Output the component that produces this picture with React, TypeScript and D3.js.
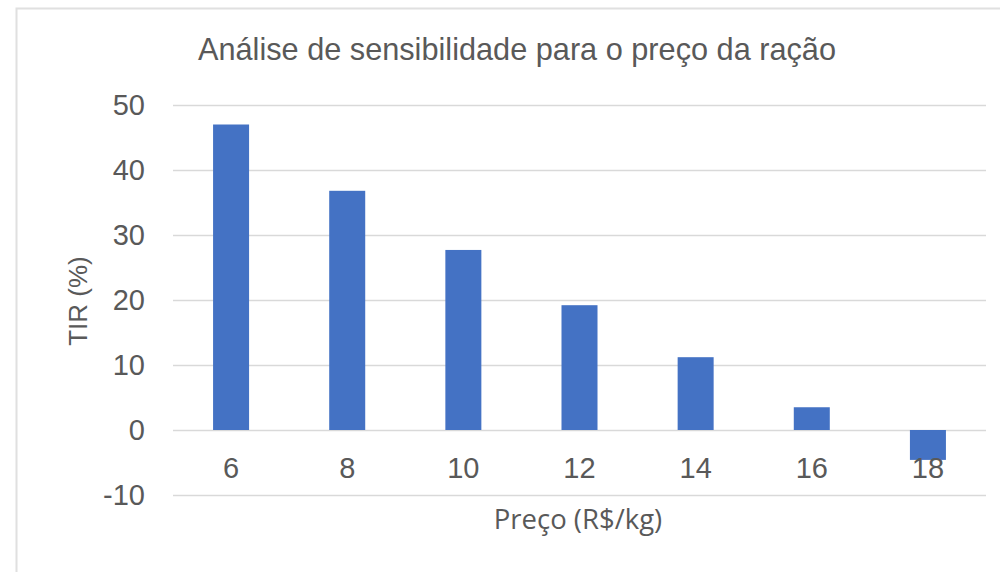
import { useRef, useEffect } from 'react';
import * as d3 from 'd3';

const precos = ['6', '8', '10', '12', '14', '16', '18'];
const tir = [47, 36.8, 27.7, 19.2, 11.2, 3.5, -4.6];
const yTicks = [-10, 0, 10, 20, 30, 40, 50];

const W = 1000, H = 572;
const TEXT = '#595959';
const GRID = '#d9d9d9';
const BAR = '#4472c4';

export default function App() {
  const svgRef = useRef<SVGSVGElement>(null);

  useEffect(() => {
    const svg = d3.select(svgRef.current);
    svg.selectAll('*').remove();

    const left = 173, right = 986, top = 105, bottom = 495;

    const x = d3.scaleBand<string>().domain(precos).range([left, right]).padding(0);
    const y = d3.scaleLinear().domain([-10, 50]).range([bottom, top]);
    const barW = x.bandwidth() * 0.31;

    // frame
    svg.append('rect')
      .attr('x', 16.5).attr('y', 8.5)
      .attr('width', W + 20).attr('height', H + 20)
      .attr('fill', '#fff')
      .attr('stroke', '#e0e0e0')
      .attr('stroke-width', 2);

    // gridlines
    svg.append('g')
      .selectAll('line')
      .data(yTicks)
      .join('line')
      .attr('x1', left).attr('x2', right)
      .attr('y1', d => Math.round(y(d)) + 0.5)
      .attr('y2', d => Math.round(y(d)) + 0.5)
      .attr('stroke', GRID)
      .attr('stroke-width', 1.5);

    // y tick labels
    svg.append('g')
      .selectAll('text')
      .data(yTicks)
      .join('text')
      .attr('x', 145)
      .attr('y', d => y(d))
      .attr('dy', '0.36em')
      .attr('text-anchor', 'end')
      .attr('font-family', '"Liberation Sans", Arial, sans-serif')
      .attr('font-size', 29)
      .attr('fill', TEXT)
      .text(d => d);

    // bars
    svg.append('g')
      .selectAll('rect')
      .data(precos)
      .join('rect')
      .attr('x', (d) => x(d)! + (x.bandwidth() - barW) / 2)
      .attr('y', (_, i) => y(Math.max(0, tir[i])))
      .attr('width', barW)
      .attr('height', (_, i) => Math.abs(y(tir[i]) - y(0)))
      .attr('fill', BAR);

    // x tick labels
    svg.append('g')
      .selectAll('text')
      .data(precos)
      .join('text')
      .attr('x', d => x(d)! + x.bandwidth() / 2)
      .attr('y', 478)
      .attr('text-anchor', 'middle')
      .attr('font-family', '"Liberation Sans", Arial, sans-serif')
      .attr('font-size', 29)
      .attr('fill', TEXT)
      .text(d => d);

    // title
    svg.append('text')
      .attr('x', 517).attr('y', 60)
      .attr('text-anchor', 'middle')
      .attr('font-family', '"Liberation Sans", Arial, sans-serif')
      .attr('font-size', 30.7)
      .attr('fill', TEXT)
      .text('Análise de sensibilidade para o preço da ração');

    // axis titles
    svg.append('text')
      .attr('transform', 'translate(87,301) rotate(-90)')
      .attr('text-anchor', 'middle')
      .attr('font-family', '"Liberation Sans", Arial, sans-serif')
      .attr('font-size', 26)
      .attr('fill', TEXT)
      .text('TIR (%)');

    svg.append('text')
      .attr('x', 578).attr('y', 529)
      .attr('text-anchor', 'middle')
      .attr('font-family', '"Open Sans", sans-serif')
      .attr('font-size', 27.5)
      .attr('fill', TEXT)
      .text('Preço (R$/kg)');
  }, []);

  return (
    <svg ref={svgRef} width={W} height={H}
      style={{ position: 'absolute', left: 0, top: 0, background: '#fff' }} />
  );
}
